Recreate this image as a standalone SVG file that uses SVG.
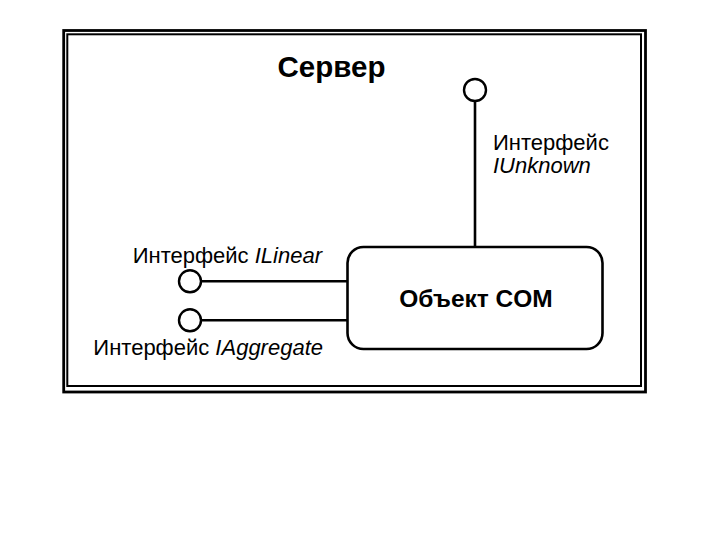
<svg xmlns="http://www.w3.org/2000/svg" width="720" height="540" viewBox="0 0 720 540">
<style>
.ln{fill:none;stroke:#000;stroke-width:2.6}
.ball{fill:#fff;stroke:#000;stroke-width:2.4}
.t{font-family:"Liberation Sans",Arial,sans-serif;font-size:22px;fill:#000}
.it{font-style:italic}
.b{font-weight:bold}
</style>
<rect width="720" height="540" fill="#fff"/>
<g id="server">
<rect x="63.7" y="30.5" width="581.8" height="361.5" fill="none" stroke="#000" stroke-width="2.8"/>
<rect x="67.3" y="34.3" width="573.7" height="351.7" fill="none" stroke="#000" stroke-width="2"/>
<text class="t b" x="331.5" y="76.5" text-anchor="middle" style="font-size:29.5px">Сервер</text>
</g>
<g id="connectors">
<line class="ln" x1="475" y1="101" x2="475" y2="247"/>
<line class="ln" x1="201" y1="281.3" x2="347.5" y2="281.3"/>
<line class="ln" x1="201" y1="320.3" x2="347.5" y2="320.3"/>
</g>
<g id="com-object">
<rect x="347.5" y="247" width="255" height="102" rx="16" ry="16" fill="#fff" stroke="#000" stroke-width="2.6"/>
<text class="t b" x="476" y="307" text-anchor="middle" style="font-size:24.5px">Объект COM</text>
</g>
<g id="iunknown">
<circle class="ball" cx="475" cy="90" r="11"/>
<text class="t" x="493" y="150">Интерфейс</text>
<text class="t it" x="493" y="173">IUnknown</text>
</g>
<g id="ilinear">
<circle class="ball" cx="190" cy="281.3" r="11"/>
<text class="t" x="322" y="263" text-anchor="end">Интерфейс <tspan class="it">ILinear</tspan></text>
</g>
<g id="iaggregate">
<circle class="ball" cx="190" cy="320.3" r="11"/>
<text class="t" x="323" y="355" text-anchor="end">Интерфейс <tspan class="it">IAggregate</tspan></text>
</g>
</svg>
